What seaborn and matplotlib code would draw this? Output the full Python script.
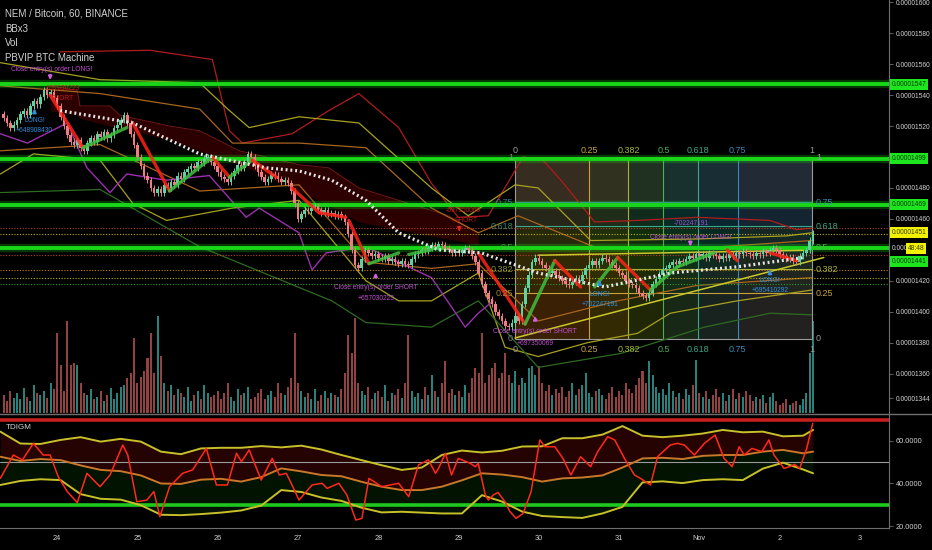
import matplotlib
matplotlib.use("Agg")
import matplotlib.pyplot as plt
from matplotlib.lines import Line2D
from matplotlib.transforms import blended_transform_factory
import numpy as np
import seaborn as sns

sns.set_style("dark", {"axes.facecolor": "black", "figure.facecolor": "black"})
plt.rcParams["font.family"] = ["Liberation Sans", "DejaVu Sans"]

# ---- hourly candles, price in 1e-8 BTC, hours counted from 24 Oct 00:00 ----
START_HOUR = -16
FIRST_OPEN = 1528
CLOSE = [
    1525, 1522, 1519, 1521, 1524, 1528, 1530, 1527, 1533, 1536, 1534, 1539, 1543, 1540, 1542, 1538,
    1533, 1526, 1520, 1514, 1510, 1508, 1511, 1506, 1504, 1509, 1512, 1510,
    1515, 1513, 1516, 1512, 1514, 1519, 1521, 1524, 1527, 1522, 1515, 1508,
    1500, 1494, 1488, 1485, 1480, 1477, 1479, 1477, 1482, 1480, 1484, 1482,
    1488, 1486, 1490, 1492, 1494, 1493, 1497, 1496, 1499, 1500, 1497, 1494,
    1490, 1487, 1486, 1484, 1488, 1491, 1495, 1493, 1497, 1502, 1500, 1494,
    1490, 1487, 1484, 1486, 1489, 1488, 1486, 1484, 1485, 1483, 1478, 1470,
    1460, 1463, 1466, 1465, 1467, 1468, 1466, 1464, 1466, 1463, 1464, 1462,
    1463, 1461, 1458, 1450, 1440, 1430, 1428, 1434, 1440, 1438, 1436, 1437,
    1435, 1434, 1436, 1433, 1434, 1432, 1431, 1433, 1431, 1430, 1434, 1437,
    1438, 1440, 1439, 1441, 1443, 1442, 1444, 1443, 1441, 1440, 1438, 1439,
    1438, 1440, 1441, 1440, 1436, 1432, 1425, 1418, 1412, 1408, 1405, 1400,
    1397, 1394, 1391, 1390, 1393, 1397, 1394, 1405, 1415, 1424, 1432, 1435,
    1433, 1430, 1428, 1425, 1426, 1424,
    1422, 1420, 1418, 1417, 1419, 1422, 1420, 1424, 1428, 1430, 1433, 1430,
    1433, 1435, 1434, 1432, 1430, 1428, 1425, 1424, 1420, 1418, 1417, 1415,
    1412, 1410, 1409, 1412, 1418, 1421, 1424, 1427, 1428, 1430, 1432, 1431,
    1433, 1432, 1434, 1436, 1435, 1437, 1436, 1437, 1435, 1438, 1437, 1436,
    1434, 1436, 1435, 1437, 1436, 1438, 1437, 1439, 1438, 1437, 1436, 1438,
    1437, 1439, 1438, 1440, 1441, 1440, 1437, 1436, 1434, 1435, 1433, 1432,
    1436, 1438, 1440, 1446, 1451,
]
VOLUME = [
    18, 12, 22, 15, 20, 14, 25, 16, 12, 28, 20, 18, 22, 15, 30, 24,
    80, 48, 22, 92, 48, 50, 48, 30, 20, 18, 24, 14,
    16, 22, 12, 18, 25, 14, 20, 26, 28, 35, 40, 75,
    30, 36, 42, 55, 80, 40, 97, 57, 30, 22, 28, 18,
    24, 20, 16, 26, 12, 18, 22, 14, 28, 20, 16, 18,
    22, 14, 20, 30, 16, 12, 24, 18, 20, 26, 14, 16,
    20, 24, 14, 18, 22, 16, 30, 20, 18, 26, 35, 80,
    30, 22, 16, 20, 14, 24, 12, 18, 22, 15, 20, 18,
    16, 24, 40, 78, 60, 95, 30, 22, 18, 26, 14, 20,
    22, 16, 28, 12, 20, 18, 24, 15, 30, 78, 22, 16,
    20, 14, 26, 18, 38, 22, 16, 30, 52, 20, 24, 18,
    22, 16, 28, 20, 35, 45, 40, 80, 30, 38, 45, 50,
    35, 40, 60, 38, 30, 42, 28, 35, 30, 45, 47, 38,
    47, 30, 22, 28, 18, 24,
    20, 26, 16, 22, 30, 18, 24, 28, 40, 20, 16, 22,
    24, 18, 14, 20, 26, 16, 22, 18, 30, 24, 20, 28,
    35, 42, 30, 52, 38, 26, 20, 24, 18, 30, 22, 16,
    20, 14, 24, 18, 28, 53, 20, 16, 22, 14, 18, 24,
    16, 20, 12, 18, 24, 14, 20, 16, 22, 18, 12, 16,
    14, 18, 10, 16, 20, 12, 8, 10, 14, 8, 10, 12,
    8, 14, 20, 60, 92,
]

# ---- Bollinger x3 bands (hours, price) ----
RED_UP_H = [0.9, 27.7, 46.4, 51.5, 55.4, 70.2, 81.2, 90.2, 102.1, 111.9, 119.9, 128.9, 139.3, 145.2, 150.6, 160.7, 173.5, 191.4, 213.1, 221.1, 225.6]
RED_UP_P = [1568, 1569, 1563, 1517, 1509, 1515, 1530, 1541, 1519, 1483, 1461, 1462, 1500, 1498, 1485, 1458, 1459, 1461, 1459, 1453, 1454]
YEL_UP_H = [-17, 12.8, 42.6, 51.5, 57.4, 72.3, 90.2, 111.9, 122.9, 136.9, 143.8, 159.5, 191.4, 218.2, 225.6]
YEL_UP_P = [1561, 1550, 1548, 1530, 1519, 1526, 1522, 1480, 1462, 1482, 1480, 1446, 1447, 1449, 1451]
ORG_UP_H = [-17, 12.8, 42.6, 52.4, 72.3, 92.3, 111.9, 125.9, 137.8, 161.6, 191.4, 225.6]
ORG_UP_P = [1546, 1541, 1531, 1509, 1509, 1506, 1467, 1451, 1462, 1441, 1441, 1446]
ORG_LO_H = [-17, 12.8, 42.6, 72.3, 92.3, 111.9, 125.9, 143.8, 167.6, 191.4, 225.6]
ORG_LO_P = [1504, 1508, 1478, 1482, 1432, 1428, 1431, 1394, 1407, 1417, 1422]
YEL_LO_H = [-17, -7.1, 12.8, 22.6, 32.7, 52.4, 72.3, 92.3, 102.1, 111.9, 125.9, 133.9, 143.8, 158.6, 173.5, 183.3, 203.3, 225.6]
YEL_LO_P = [1489, 1502, 1498, 1470, 1459, 1467, 1472, 1420, 1407, 1407, 1425, 1377, 1371, 1380, 1386, 1399, 1407, 1414]
GRN_LO_H = [-17, 12.8, 42.6, 82.1, 92.3, 111.9, 125.9, 143.8, 168.5, 193.5, 213.1, 225.6]
GRN_LO_P = [1477, 1479, 1442, 1407, 1393, 1390, 1407, 1364, 1373, 1390, 1399, 1398]

MA_H = [0.9, 22.6, 42.6, 62.5, 72.3, 82.1, 92.3, 102.1, 114, 126.8, 143.8, 163.7, 183.3, 203.3, 223.2]
MA_P = [1530, 1522, 1502, 1493, 1491, 1485, 1472, 1451, 1440, 1438, 1425, 1416, 1425, 1429, 1435]
PURPLE_H = [-17, -8.9, 3, 8.9, 15.8, 20.8, 32.7, 45.5, 56.5, 60.4, 72.3, 76.2, 80.4, 92.3, 111.9, 122, 125.9, 130.4]
PURPLE_P = [1515, 1509, 1522, 1493, 1477, 1489, 1485, 1488, 1461, 1467, 1451, 1427, 1438, 1442, 1422, 1390, 1399, 1407]

CLOUD_H = [-2.1, 6, 6.8, 15.8, 18.8, 33.6, 42.6, 54.5, 72.3, 81.2, 90.2, 102.1, 117, 125.9]
CLOUD_A = [1546, 1543, 1533, 1533, 1527, 1520, 1517, 1504, 1495, 1493, 1480, 1472, 1462, 1451]
CLOUD_B = [1530, 1527, 1525, 1520, 1519, 1511, 1504, 1495, 1478, 1469, 1458, 1453, 1447, 1443]

# zigzag legs: start hour, start price, end hour, end price, rising?
ZZ = [
    (-2.1, 1540, 7.7, 1506, False), (7.7, 1506, 20.8, 1519, True),
    (22.6, 1522, 33.6, 1478, False), (33.6, 1478, 46.4, 1500, True),
    (46.4, 1500, 51.5, 1487, False), (51.5, 1487, 58.3, 1498, True),
    (58.3, 1498, 65.5, 1487, False), (70.2, 1480, 78.3, 1464, False),
    (78.3, 1464, 86.3, 1461, False), (87.2, 1459, 93.2, 1431, False),
    (93.2, 1431, 102.1, 1438, True), (105.1, 1437, 111.9, 1440, True),
    (125.9, 1438, 139.9, 1392, False), (139.9, 1392, 148.8, 1433, True),
    (148.8, 1433, 156.5, 1416, False), (160.7, 1416, 167.6, 1435, True),
    (167.6, 1435, 177.4, 1414, False), (177.4, 1414, 185.4, 1429, True),
    (185.4, 1429, 196.4, 1438, True), (200.3, 1440, 203.3, 1433, False),
    (213.1, 1438, 221.1, 1433, False),
]

GREEN_LEVELS = [1547, 1499, 1469, 1441]
DOT_LEVELS = [1454, 1450, 1436.5, 1427, 1422, 1418]
DOT_COLORS = ["#b0402a", "#c0b000", "#b0402a", "#c08a00", "#c0b000", "#2a9a2a"]

# fib box
FIB_T0, FIB_T1 = 136.9, 225.6
FIB_P0, FIB_P1 = 1382.5, 1500
FIB_LEVELS = [0, 0.25, 0.382, 0.5, 0.618, 0.75, 1]
FIB_TEXT = ["0", "0.25", "0.382", "0.5", "0.618", "0.75", "1"]
FIB_COLORS = ["#9a9a9a", "#c9a13b", "#a6b23c", "#4caf50", "#3aa88a", "#3d86b8", "#9a9a9a"]
COL_FILLS = ["#c07010", "#9a9a10", "#3a8a20", "#10906a", "#10789a", "#4a6a9a"]
ROW_FILLS = ["#a05a10", "#8a7a10", "#6a8a10", "#2a8a3a", "#2a7a8a", "#8a9aaa"]
TREND_H = [[136.9, 229.2], [143.8, 223.2]]
TREND_P = [[1383, 1435], [1436.5, 1439.7]]

NOTES = [
    (-1.5, 1556.7, "Close entry(s) order LONG!", "#c24fd0"),
    (-6.8, 1523.7, "LONG!", "#2f8fe0"),
    (-6.8, 1517.3, "+648908430", "#2f8fe0"),
    (1.5, 1544.4, "-657030223", "#c81818"),
    (1.5, 1538.0, "SHORT", "#c81818"),
    (95.2, 1415.8, "Close entry(s) order SHORT", "#c24fd0"),
    (95.2, 1408.7, "+657030223", "#c24fd0"),
    (121.4, 1465.5, "-697350069", "#c81818"),
    (122.3, 1459.0, "SHORT", "#c81818"),
    (142.9, 1387.3, "Close entry(s) order SHORT", "#c24fd0"),
    (142.9, 1379.5, "+697350069", "#c24fd0"),
    (162.2, 1411.3, "LONG!", "#2f8fe0"),
    (162.2, 1404.8, "+702247191", "#2f8fe0"),
    (189.6, 1457.0, "-702247191", "#a04fd0"),
    (189.3, 1448.0, "Close entry(s) order LONG!", "#c24fd0"),
    (213.1, 1420.3, "LONG!", "#2f8fe0"),
    (213.1, 1413.8, "+695410292", "#2f8fe0"),
]
ARROWS = [
    (-2.1, 1555, 1548, "#d060e0"), (-6.8, 1527, 1533, "#2f8fe0"),
    (95.2, 1420.5, 1427, "#d060e0"), (120.2, 1456, 1450, "#e02020"),
    (142.9, 1392.5, 1399, "#d060e0"), (162.2, 1416.5, 1422, "#2f8fe0"),
    (189.3, 1446, 1440.5, "#d060e0"), (213.1, 1423.5, 1429, "#2f8fe0"),
]

# ---- TDI (GM) panel ----
TDI_BAND_H = list(range(-17, 224, 6)) + [226]
TDI_UPPER = [64.4, 58.8, 58.6, 60.5, 61.8, 59.7, 61.0, 59.7, 55.0, 53.8, 56.5, 56.8, 56.8, 57.6,
             57.0, 57.8, 56.0, 53.4, 51.0, 48.6, 46.4, 47.5, 53.4, 55.5, 54.6, 55.4, 57.4, 57.5,
             61.3, 61.3, 63.0, 67.0, 62.5, 61.8, 62.5, 63.5, 65.2, 64.1, 64.4, 62.2, 62.5, 65.2]
TDI_MID = [52.6, 50.6, 51.5, 51.0, 48.5, 46.4, 45.8, 43.8, 40.0, 39.8, 41.8, 42.2, 40.9, 43.0,
           47.1, 45.7, 44.0, 43.4, 40.8, 38.5, 36.9, 36.9, 38.5, 41.5, 44.8, 44.2, 43.0, 40.9,
           42.4, 42.8, 43.8, 47.5, 51.8, 52.1, 51.5, 53.0, 53.4, 53.4, 55.0, 55.8, 54.2, 55.0]
TDI_LOWER = [39.3, 41.2, 42.0, 41.6, 35.0, 32.8, 32.4, 29.8, 25.3, 25.1, 25.6, 26.3, 27.3, 29.6,
             36.9, 36.0, 33.4, 31.8, 28.6, 26.4, 26.7, 26.3, 25.9, 25.9, 34.5, 31.5, 26.8, 24.7,
             24.2, 23.8, 25.9, 29.0, 40.5, 41.0, 40.2, 41.6, 42.0, 41.6, 47.0, 49.8, 46.6, 44.8]
RSI_H = [-17, -13.1, -10.4, -7.1, -4.2, -2.1, 0.3, 3, 6, 8.9, 12.8, 15.8, 19.6, 21.1, 23.8, 26.8,
         28.9, 30.7, 33.6, 37.5, 40.5, 44.6, 47.6, 50.9, 53.6, 55.1, 57.4, 61, 64.3, 66.4, 68.5,
         70.2, 72.3, 76.2, 79.2, 80.7, 84.2, 86.6, 89.3, 91.1, 93.2, 97, 102.1, 105.1, 108, 111,
         113.1, 114, 116.1, 117.9, 119.9, 123.5, 125, 125.9, 128, 128.9, 130.4, 131.8, 133.9,
         135.4, 137.2, 139.3, 141.7, 144.3, 145.8, 148.8, 151.2, 153.6, 156.5, 159.5, 161.6,
         164.6, 166.7, 169.6, 172.6, 174.4, 177.4, 179.5, 183.3, 185.4, 187.5, 190.5, 193.5,
         196.7, 199.4, 201.8, 203.9, 205.4, 207.7, 210.7, 212.8, 214.3, 217.3, 219, 220.5, 222,
         224.1, 225.9]
RSI_V = [42.4, 53.4, 51.1, 58.9, 53.4, 53.4, 43.2, 36.2, 31.0, 44.8, 38.5, 44.0, 58.1, 53.4,
         31.4, 32.2, 36.2, 24.4, 38.5, 44.8, 46.4, 56.5, 39.3, 39.3, 54.2, 50.3, 55.8, 41.6,
         51.8, 44.0, 44.8, 39.3, 32.2, 39.3, 40.1, 37.7, 40.1, 34.6, 22.8, 23.6, 42.4, 38.5,
         40.1, 33.8, 48.7, 51.1, 44.8, 47.1, 54.2, 44.0, 51.8, 49.5, 47.9, 49.5, 34.6, 32.2,
         34.6, 35.8, 31.4, 26.7, 23.6, 25.9, 36.2, 60.5, 57.3, 57.3, 51.8, 44.0, 52.6, 47.9,
         55.0, 62.0, 60.5, 51.8, 44.0, 42.4, 39.3, 52.6, 58.1, 58.9, 58.1, 53.4, 58.9, 62.8,
         51.8, 47.9, 57.3, 53.4, 56.5, 55.0, 60.5, 53.4, 47.1, 47.9, 49.0, 47.1, 56.5, 68.3]

PRICE_TICKS = [1344, 1360, 1380, 1400, 1420, 1460, 1480, 1520, 1540, 1560, 1580, 1600]
DAY_TICKS = [0, 24, 48, 72, 96, 120, 144, 168, 192, 216, 240]
DAY_LABELS = ["24", "25", "26", "27", "28", "29", "30", "31", "Nov", "2", "3"]
LEGEND = ["NEM / Bitcoin, 60, BINANCE", "BBx3", "Vol", "PBVIP BTC Machine"]

BG = "black"
UP, DOWN = "#5fd39f", "#ef7b83"
TXT = "#d2d2d2"
AXC = "#6e6e6e"
W, H = 932, 550
LBL = 4.8


def line(a, xs, ys, color, lw, **kw):
    sns.lineplot(x=xs, y=ys, ax=a, color=color, linewidth=lw, legend=False, **kw)


fig = plt.figure(figsize=(9.32, 5.5), dpi=100)
fig.patch.set_facecolor(BG)
ax_vol = fig.add_axes([0, 1 - 413 / H, 889 / W, 413 / H])
ax = fig.add_axes([0, 1 - 413 / H, 889 / W, 413 / H], sharex=ax_vol)
ax.patch.set_visible(False)
ax_tdi = fig.add_axes([0, 1 - 528 / H, 889 / W, 114 / H], sharex=ax_vol)

hours = np.arange(START_HOUR, START_HOUR + len(CLOSE))
close = np.array(CLOSE, dtype=float)
opens = np.array([FIRST_OPEN] + CLOSE[:-1], dtype=float)
rising = close >= opens

# volume underneath
ax_vol.set_facecolor(BG)
ax_vol.bar(hours, VOLUME, width=0.6, color=np.where(rising, "#2f8f88", "#a44a4a"), alpha=0.9, lw=0)
ax_vol.set_ylim(0, 415)
ax_vol.set_yticks([])
ax_vol.tick_params(bottom=False, labelbottom=False)
for s in ax_vol.spines.values():
    s.set_visible(False)

# fib box
fib_t = FIB_T0 + np.array(FIB_LEVELS) * (FIB_T1 - FIB_T0)
fib_p = FIB_P0 + np.array(FIB_LEVELS) * (FIB_P1 - FIB_P0)
for i in range(len(FIB_LEVELS) - 1):
    ax.fill_between([fib_t[i], fib_t[i + 1]], FIB_P0, FIB_P1, color=COL_FILLS[i], alpha=0.2, lw=0, zorder=1)
    ax.fill_between([FIB_T0, FIB_T1], fib_p[i], fib_p[i + 1], color=ROW_FILLS[i], alpha=0.17, lw=0, zorder=1)
ax.vlines(fib_t, FIB_P0, FIB_P1, colors=FIB_COLORS, lw=0.8, zorder=2)
ax.hlines(fib_p, FIB_T0, FIB_T1, colors=FIB_COLORS, lw=0.8, zorder=2)
for t, p, txt, c in zip(fib_t, fib_p, FIB_TEXT, FIB_COLORS):
    ax.text(t, 1504.5, txt, color=c, fontsize=6.5, ha="center", va="center", zorder=7)
    ax.text(t, 1375.5, txt, color=c, fontsize=6.5, ha="center", va="center", zorder=7)
    ax.text(FIB_T1 + 1.3, p, txt, color=c, fontsize=6.5, ha="left", va="center", zorder=7)
    ax.text(FIB_T0 - 0.6, p, txt, color=c, fontsize=6.5, ha="right", va="center", zorder=7, alpha=0.8)

# ichimoku-like cloud
ax.fill_between(CLOUD_H, CLOUD_A, CLOUD_B, color="#6a0000", alpha=0.42, lw=0, zorder=1)
line(ax, CLOUD_H, CLOUD_A, "#7a1a1a", 0.6, zorder=1)

# bands
line(ax, RED_UP_H, RED_UP_P, "#b01c1c", 0.9, zorder=2)
line(ax, YEL_UP_H, YEL_UP_P, "#a8a020", 0.9, zorder=2)
line(ax, ORG_UP_H, ORG_UP_P, "#a8651e", 0.9, zorder=2)
line(ax, ORG_LO_H, ORG_LO_P, "#a8651e", 0.9, zorder=2)
line(ax, YEL_LO_H, YEL_LO_P, "#a8a020", 0.9, zorder=2)
line(ax, GRN_LO_H, GRN_LO_P, "#2e6a22", 0.9, zorder=2)
line(ax, PURPLE_H, PURPLE_P, "#9b2fae", 1.0, zorder=2)

# horizontal levels
for p, c in zip(DOT_LEVELS, DOT_COLORS):
    ax.axhline(p, color=c, lw=0.8, ls=(0, (1, 1.5)), zorder=2)
for p in GREEN_LEVELS:
    ax.axhline(p, color="#18e018", lw=6, alpha=0.25, zorder=3)
    ax.axhline(p, color="#19d619", lw=2.8, zorder=3)
for th, tp in zip(TREND_H, TREND_P):
    line(ax, th, tp, "#c8c82a", 1.1, zorder=3)

# candles
lo = np.minimum(opens, close)
hi = np.maximum(opens, close)
for mask, col in ((rising, UP), (~rising, DOWN)):
    ax.vlines(hours[mask], lo[mask] - 2, hi[mask] + 2, color=col, lw=0.7, zorder=4)
    ax.bar(hours[mask], np.maximum(hi[mask] - lo[mask], 0.7), bottom=lo[mask], width=0.78,
           color=col, lw=0, zorder=4)

# zigzag and moving average
for h0, p0, h1, p1, up in ZZ:
    line(ax, [h0, h1], [p0, p1], "#3fbf3f" if up else "#ff2418", 2.4, zorder=5, alpha=0.85)
line(ax, MA_H, MA_P, "#e6e6e6", 2.3, zorder=5, linestyle=(0, (0.6, 0.9)))

# trade notes
for h, p, txt, c in NOTES:
    ax.text(h, p, txt, color=c, fontsize=4.8, ha="center", va="center", zorder=7)
for h, p0, p1, c in ARROWS:
    ax.annotate("", xy=(h, p1), xytext=(h, p0), zorder=7,
                arrowprops=dict(arrowstyle="-|>", color=c, lw=1.3, mutation_scale=5))

ax.set_xlim(-17.1, 248.7)
ax.set_ylim(1334.5, 1601.5)
ax.grid(False)
ax.set_xlabel("")
ax.set_ylabel("")
ax.yaxis.tick_right()
ax.set_yticks(PRICE_TICKS)
ax.set_yticklabels([f"{v / 1e8:.8f}" for v in PRICE_TICKS])
ax.tick_params(axis="y", colors=AXC, labelcolor=TXT, labelsize=LBL, length=3, width=0.6, pad=1.5)
ax.tick_params(axis="x", bottom=False, labelbottom=False)
for name, s in ax.spines.items():
    s.set_visible(name == "right")
    s.set_color(AXC)

# right-hand price boxes
tr = blended_transform_factory(ax.transAxes, ax.transData)
for p, at in zip(GREEN_LEVELS, [1547, 1499, 1469, 1432.5]):
    ax.text(1.003, at, f"{p / 1e8:.8f}", transform=tr, fontsize=LBL, color="#0a3a0a", ha="left",
            va="center", zorder=8, clip_on=False,
            bbox=dict(boxstyle="square,pad=0.3", fc="#1ee61e", ec="none"))
ax.text(1.003, 1451, f"{1451 / 1e8:.8f}", transform=tr, fontsize=LBL, color="#3a3a00", ha="left",
        va="center", zorder=8, clip_on=False,
        bbox=dict(boxstyle="square,pad=0.3", fc="#f2f200", ec="none"))
ax.text(1.003, 1441, "0.000", transform=tr, fontsize=LBL, color=TXT, ha="left", va="center", clip_on=False)
ax.text(1.021, 1441, "48:48", transform=tr, fontsize=LBL, color="#3a3a00", ha="left", va="center",
        zorder=8, clip_on=False, bbox=dict(boxstyle="square,pad=0.3", fc="#f2f200", ec="none"))

# TDI panel
ax_tdi.set_facecolor(BG)
ax_tdi.fill_between(TDI_BAND_H, TDI_UPPER, TDI_MID, color="#ff1a1a", alpha=0.15, lw=0)
ax_tdi.fill_between(TDI_BAND_H, TDI_MID, TDI_LOWER, color="#1aff1a", alpha=0.08, lw=0)
ax_tdi.axhline(70, color="#c41e1e", lw=2.6)
ax_tdi.axhline(50, color="#9a9a9a", lw=0.8)
ax_tdi.axhline(30, color="#1fc81f", lw=2.6)
line(ax_tdi, TDI_BAND_H, TDI_UPPER, "#c8c02a", 1.4)
line(ax_tdi, TDI_BAND_H, TDI_MID, "#c8782a", 1.4)
line(ax_tdi, TDI_BAND_H, TDI_LOWER, "#c8c02a", 1.4)
line(ax_tdi, RSI_H, RSI_V, "#ff2a1a", 1.1)
ax_tdi.text(0.006, 0.88, "TDIGM", transform=ax_tdi.transAxes, color=TXT, fontsize=5.8, ha="left", va="center")
ax_tdi.set_xlim(-17.1, 248.7)
ax_tdi.set_ylim(19.06, 72.7)
ax_tdi.grid(False)
ax_tdi.set_xlabel("")
ax_tdi.set_ylabel("")
ax_tdi.yaxis.tick_right()
ax_tdi.set_yticks([20, 40, 60])
ax_tdi.set_yticklabels(["20.0000", "40.0000", "60.0000"])
ax_tdi.set_xticks(DAY_TICKS)
ax_tdi.set_xticklabels(DAY_LABELS)
ax_tdi.tick_params(axis="both", colors=AXC, labelcolor=TXT, labelsize=5.3, length=3, width=0.6, pad=2)
for name, s in ax_tdi.spines.items():
    s.set_visible(name in ("right", "bottom"))
    s.set_color(AXC)

# panel separator and legend
fig.add_artist(Line2D([0, 1], [1 - 413.5 / H, 1 - 413.5 / H], color=AXC, lw=1.0))
for i, txt in enumerate(LEGEND):
    fig.text(5 / W, 1 - (14 + 14.7 * i) / H, txt, color=TXT, fontsize=7, ha="left", va="center")

fig.savefig("out.png", dpi=100, facecolor=BG)
